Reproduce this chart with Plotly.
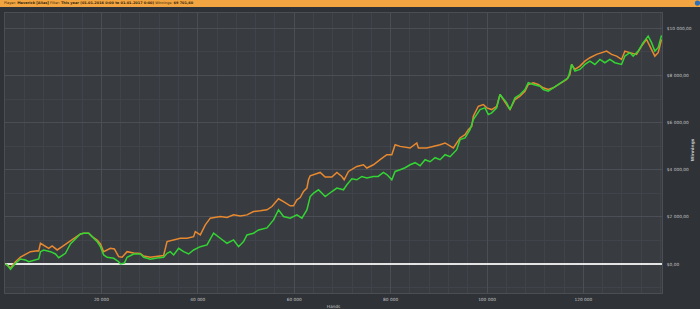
import plotly.graph_objects as go

# ---- data (hands, winnings in $) ----
hands_green = [100, 456, 1140, 2176, 3212, 4249, 4933, 5969, 7005, 7357, 8041, 9430, 10466, 11150, 11855, 12539,
               13575, 14964, 15647, 16331, 17367, 18072, 19108, 19792, 20476, 21181, 22549, 23585, 23937, 24766,
               25325, 26693, 28082, 28766, 30155, 31543, 32911, 33616, 34300, 34984, 36020, 37056, 38093, 39129,
               40517, 41906, 43274, 44662, 46051, 47419, 48455, 49491, 50196, 51564, 52600, 54341, 55708, 56744,
               57781, 59169, 60558, 61594, 62630, 63314, 64018, 65034, 66423, 67811, 68848, 70216, 70920, 71957,
               72993, 74029, 75066, 76433, 77408, 78506, 79273, 80247, 80931, 81967, 83003, 84040, 85076, 86112,
               87149, 88185, 89221, 90257, 91294, 92330, 93718, 94402, 95439, 96475, 97159, 98547, 99583, 100267,
               100972, 102008, 102692, 104080, 104764, 105801, 106837, 107873, 108557, 109593, 110982, 111666,
               112702, 113738, 114774, 115811, 116847, 117551, 118235, 119271, 120307, 121344, 122380, 123416,
               124452, 125489, 126525, 127914, 128598, 129634, 130318, 131354, 132391, 133427, 134131, 134816,
               135500, 136205]
win_green = [0, -43, -226, 30, 213, 170, 98, 170, 213, 523, 596, 523, 426, 268, 383, 455,
             851, 1162, 1277, 1306, 1306, 1162, 949, 736, 383, 285, 243, 98, 0, 43,
             285, 426, 426, 285, 200, 255, 285, 455, 523, 383, 668, 523, 426, 596,
             736, 808, 1306, 1094, 881, 1021, 736, 949, 1234, 1306, 1447, 1532, 1872, 2298,
             2013, 1945, 2085, 1945, 2298, 2864, 3008, 3149, 2864, 3076, 3221, 3149, 3361, 3617,
             3574, 3715, 3647, 3715, 3715, 3885, 3787, 3574, 3927, 4000, 4085, 4212, 4298, 4170,
             4425, 4340, 4510, 4425, 4638, 4553, 4851, 5276, 5348, 5702, 6127, 6553, 6625, 6340,
             6412, 6625, 7191, 6838, 6553, 7051, 7191, 7404, 7689, 7616, 7544, 7404,
             7331, 7476, 7616, 7757, 7902, 8467, 8182, 8255, 8467, 8608, 8467, 8680,
             8540, 8680, 8540, 8467, 8821, 8965, 8821, 9033, 9391, 9671, 9391, 9033,
             9178, 9701.6]

hands_orange = [100, 456, 1140, 2176, 3212, 3896, 5285, 6674, 7005, 7357, 8041, 9077, 9782, 10818, 11855, 12891,
                13927, 14964, 15647, 16331, 17367, 18072, 19108, 19792, 20476, 21866, 22694, 23585, 24290, 25325,
                26693, 28082, 28766, 30155, 31543, 32911, 33616, 34984, 36373, 37762, 39129, 39481, 40517, 41554,
                42590, 44662, 46051, 47419, 48807, 50196, 51564, 52952, 54341, 55377, 56744, 57781, 59169, 59854,
                60558, 61242, 61926, 62630, 62962, 63314, 64702, 65386, 66423, 67811, 68848, 69884, 70361, 71253,
                72993, 74361, 75066, 76433, 77822, 79211, 80247, 80931, 81967, 84040, 85429, 85760, 87501, 88807,
                90257, 91294, 92330, 93014, 94402, 95439, 96122, 96827, 97159, 98195, 99231, 99936, 100972, 102008,
                102692, 103376, 104080, 104764, 105801, 106837, 107873, 108557, 109593, 110630, 111666, 112702,
                113738, 114774, 115811, 116515, 117199, 117551, 118235, 119271, 120307, 121344, 122732, 123768,
                124805, 125841, 126877, 127914, 128598, 129634, 131023, 132059, 133095, 133779, 134816, 135500,
                136205]
win_orange = [0, -43, -170, 98, 298, 383, 523, 566, 553, 881, 808, 668, 766, 596, 736, 881,
              1021, 1162, 1277, 1306, 1306, 1162, 1021, 851, 523, 668, 638, 311, 285, 523,
              468, 447, 340, 285, 319, 362, 949, 1021, 1094, 1094, 1162, 1374, 1234, 1660,
              1945, 2013, 1979, 2085, 2042, 2085, 2225, 2255, 2298, 2438, 2766, 2651, 2468, 2468,
              2723, 2821, 3076, 3221, 3574, 3744, 3830, 3885, 3689, 3689, 3885, 3715, 3574, 3927,
              4140, 4212, 4072, 4212, 4425, 4638, 4638, 5063, 4991, 4923, 5136, 4923, 4923, 4978,
              5063, 5136, 4991, 4923, 5348, 5489, 5702, 5842, 6268, 6693, 6765, 6625, 6553, 6693,
              7191, 6979, 6765, 6553, 6979, 7119, 7331, 7616, 7689, 7616, 7476, 7404,
              7476, 7616, 7757, 7829, 8042, 8467, 8255, 8395, 8608, 8752, 8893, 8965,
              9033, 8893, 8821, 8680, 9033, 8965, 8893, 9246, 9531, 9246, 8821, 8965,
              9531]

x_tick_vals = [20000, 40000, 60000, 80000, 100000, 120000]
x_tick_text = ["20 000", "40 000", "60 000", "80 000", "100 000", "120 000"]
y_tick_vals = [0, 2000, 4000, 6000, 8000, 10000]
y_tick_text = ["$0,00", "$2 000,00", "$4 000,00", "$6 000,00", "$8 000,00", "$10 000,00"]

header_html = ("Player: <b>Maverick [Alias]</b> Filter: <b>This year (01.01.2016 0:00 to 01.01.2017 0:00)</b> "
               "Winnings: <b>$9 701,60</b>")

fig = go.Figure()
fig.add_trace(go.Scatter(x=hands_orange, y=win_orange, mode="lines",
                         line=dict(color="#e8892f", width=1.5), showlegend=False))
fig.add_trace(go.Scatter(x=hands_green, y=win_green, mode="lines",
                         line=dict(color="#33d433", width=1.5), showlegend=False))

grid_major = "#4b4f55"
grid_minor = "#40444a"
label_color = "#c4c6c8"
tick_font = dict(family="DejaVu Sans", size=4.3, color=label_color)

fig.update_layout(
    width=700, height=309,
    margin=dict(l=5, r=38, t=13, b=16, autoexpand=False),
    paper_bgcolor="#2f3236",
    plot_bgcolor="#383b40",
    showlegend=False,
    xaxis=dict(range=[0, 136300], tickvals=x_tick_vals, ticktext=x_tick_text, automargin=False,
               tickfont=tick_font, showgrid=True, gridcolor=grid_major, gridwidth=1,
               minor=dict(dtick=4000, tick0=0, showgrid=True, gridcolor=grid_minor, gridwidth=1),
               showline=True, linecolor=grid_major, mirror=True, zeroline=False,
               ticks="", ticklabelstandoff=2,
               title=dict(text="Hands", font=dict(family="DejaVu Sans", size=4.3, color=label_color),
                          standoff=4)),
    yaxis=dict(range=[-1230, 10650], side="right", tickvals=y_tick_vals, ticktext=y_tick_text,
               automargin=False,
               tickfont=tick_font, showgrid=True, gridcolor=grid_major, gridwidth=1,
               minor=dict(dtick=1000, tick0=0, showgrid=True, gridcolor=grid_minor, gridwidth=1),
               showline=True, linecolor=grid_major, mirror=True,
               zeroline=True, zerolinecolor="#e4e4e4", zerolinewidth=1.6,
               ticks="", ticklabelstandoff=3),
    shapes=[
        dict(type="rect", xref="paper", yref="paper", x0=-0.01, x1=1.06, y0=1.021, y1=1.05,
             fillcolor="#f2a540", line=dict(width=0), layer="above"),
        dict(type="circle", xref="paper", yref="paper", x0=1.050, x1=1.058, y0=1.026, y1=1.045,
             fillcolor="#2d6fb8", line=dict(width=0), layer="above"),
    ],
    annotations=[
        dict(text=header_html, xref="paper", yref="paper", x=-0.004, y=1.034, xanchor="left",
             yanchor="middle", showarrow=False, font=dict(family="DejaVu Sans", size=3.5, color="#3a2a10")),
        dict(text="<b>Winnings</b>", xref="paper", yref="paper", x=1.0457, y=0.51, xanchor="center",
             yanchor="middle", textangle=-90, showarrow=False,
             font=dict(family="DejaVu Sans", size=4.3, color=label_color)),
    ],
)

fig.write_html("out.html")
